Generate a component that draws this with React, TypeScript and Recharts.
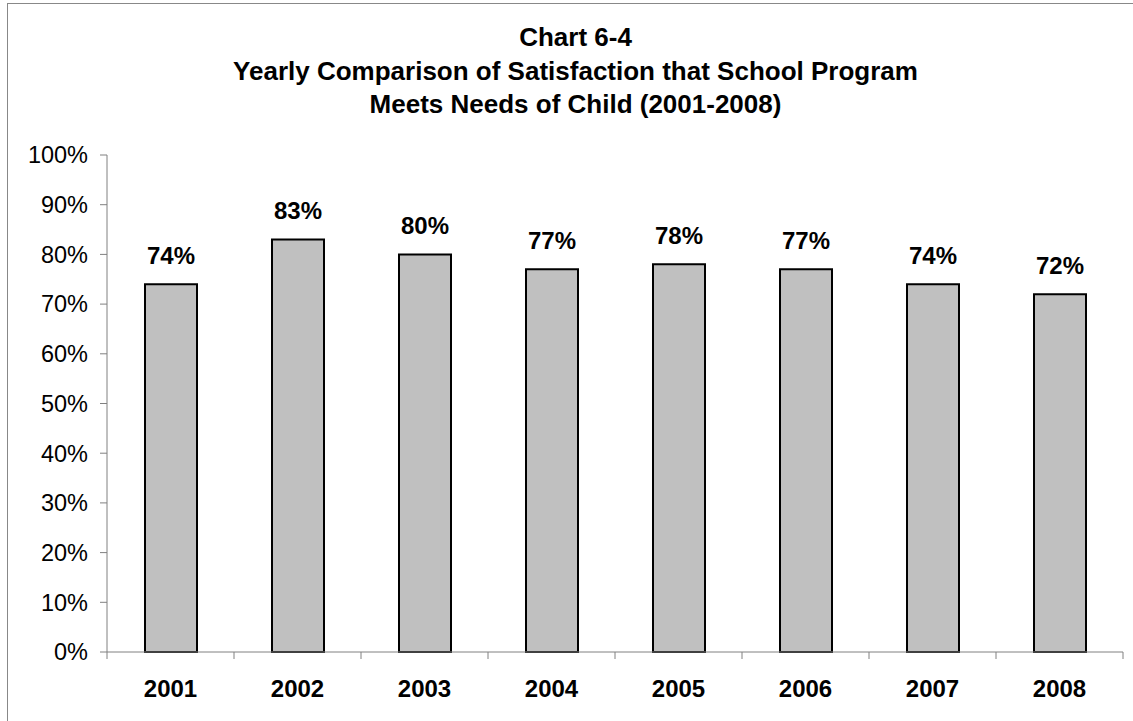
import React from 'react';
import { BarChart, Bar, XAxis, YAxis, LabelList } from 'recharts';

const years = ['2001', '2002', '2003', '2004', '2005', '2006', '2007', '2008'];
const satisfied = [74, 83, 80, 77, 78, 77, 74, 72];
const yTicks = [0, 10, 20, 30, 40, 50, 60, 70, 80, 90, 100];
const titleLines = [
  'Chart 6-4',
  'Yearly Comparison of Satisfaction that School Program',
  'Meets Needs of Child (2001-2008)',
];

const data = years.map((year, i) => ({ year, value: satisfied[i] }));

const W = 1133;
const H = 721;
const FONT = '"Liberation Sans", Arial, sans-serif';
const margin = { top: 155, right: 10, bottom: 29, left: 0 };
const yAxisWidth = 107;
const xAxisHeight = 40;
const axisY = H - margin.bottom - xAxisHeight;
const band = (W - margin.left - margin.right - yAxisWidth) / years.length;
const axisColor = '#808080';

// category labels plus the little ticks between categories
const YearTick = (props: any) => {
  const { x, payload, index } = props;
  const last = index === years.length - 1;
  return (
    <g>
      <line x1={x - band / 2} x2={x - band / 2} y1={axisY} y2={axisY + 7} stroke={axisColor} />
      {last && <line x1={x + band / 2} x2={x + band / 2} y1={axisY} y2={axisY + 7} stroke={axisColor} />}
      <text x={x} y={axisY + 45} textAnchor="middle" fontFamily={FONT} fontSize={24} fontWeight="bold" fill="#000">
        {payload.value}
      </text>
    </g>
  );
};

export default function App() {
  return (
    <div style={{ position: 'absolute', left: 0, top: 0, width: W, height: H, overflow: 'hidden', background: '#fff' }}>
      <div
        style={{
          position: 'absolute',
          left: 7,
          top: 3,
          width: W + 20,
          height: H + 20,
          border: '1px solid #888',
          boxSizing: 'border-box',
        }}
      />
      <div
        style={{
          position: 'absolute',
          left: 9,
          top: 21,
          width: W,
          textAlign: 'center',
          fontFamily: FONT,
          fontSize: 26,
          fontWeight: 'bold',
          lineHeight: '33.5px',
          color: '#000',
        }}
      >
        {titleLines.map((t) => (
          <div key={t}>{t}</div>
        ))}
      </div>
      <div style={{ position: 'absolute', left: 0, top: 0 }}>
        <BarChart width={W} height={H} data={data} margin={margin}>
          <XAxis
            dataKey="year"
            height={xAxisHeight}
            axisLine={{ stroke: axisColor }}
            tickLine={false}
            tick={<YearTick />}
            interval={0}
          />
          <YAxis
            width={yAxisWidth}
            domain={[0, 100]}
            ticks={yTicks}
            interval={0}
            tickFormatter={(v: number) => `${v}%`}
            axisLine={{ stroke: axisColor }}
            tickLine={{ stroke: axisColor }}
            tickSize={7}
            tickMargin={12}
            tick={{ fontFamily: FONT, fontSize: 23.5, fill: '#000' }}
          />
          <Bar dataKey="value" fill="#C0C0C0" stroke="#000" strokeWidth={2} barSize={52} isAnimationActive={false}>
            <LabelList
              dataKey="value"
              position="top"
              offset={20}
              formatter={(v: any) => `${v}%`}
              style={{ fontFamily: FONT, fontSize: 24, fontWeight: 'bold', fill: '#000' }}
            />
          </Bar>
        </BarChart>
      </div>
    </div>
  );
}
